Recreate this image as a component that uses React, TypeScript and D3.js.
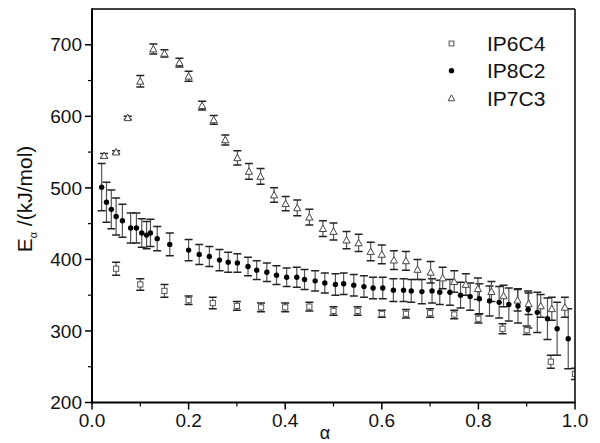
import React from "react";
import * as d3 from "d3";

const alphaIP6C4 = [0.05, 0.1, 0.15, 0.2, 0.25, 0.3, 0.35, 0.4, 0.45, 0.5, 0.55, 0.6, 0.65, 0.7, 0.75, 0.8, 0.85, 0.9, 0.95, 1.0];
const eIP6C4 = [387, 365, 356, 343, 339, 335, 333, 333, 334, 328, 328, 324, 324, 325, 323, 317, 303, 301, 257, 240];
const errIP6C4 = [9, 8, 9, 6, 8, 6, 6, 6, 6, 6, 6, 5, 6, 6, 6, 6, 7, 6, 9, 8];

const alphaIP8C2 = [0.02, 0.03, 0.04, 0.05, 0.063, 0.08, 0.092, 0.103, 0.113, 0.121, 0.135, 0.161, 0.2, 0.222, 0.243, 0.264, 0.282, 0.301, 0.323, 0.341, 0.362, 0.382, 0.403, 0.424, 0.44, 0.462, 0.482, 0.504, 0.521, 0.542, 0.563, 0.582, 0.602, 0.624, 0.645, 0.661, 0.683, 0.704, 0.72, 0.741, 0.763, 0.783, 0.802, 0.823, 0.843, 0.863, 0.882, 0.903, 0.922, 0.943, 0.963, 0.986];
const eIP8C2 = [501, 480, 470, 460, 454, 444, 444, 437, 434, 437, 429, 421, 413, 407, 404, 399, 396, 395, 390, 385, 382, 378, 375, 375, 372, 370, 367, 365, 366, 364, 362, 360, 360, 357, 357, 356, 355, 356, 354, 354, 350, 348, 345, 342, 340, 337, 335, 330, 326, 317, 303, 289];
const errIP8C2 = [33, 28, 27, 26, 23, 21, 21, 20, 19, 19, 17, 16, 15, 14, 14, 15, 14, 13, 13, 13, 13, 13, 13, 14, 14, 14, 14, 15, 15, 15, 15, 15, 15, 16, 16, 16, 17, 17, 17, 18, 18, 19, 21, 21, 22, 23, 24, 26, 28, 29, 37, 42];

const alphaIP7C3 = [0.025, 0.05, 0.074, 0.1, 0.127, 0.15, 0.181, 0.2, 0.228, 0.252, 0.276, 0.301, 0.325, 0.349, 0.377, 0.401, 0.425, 0.45, 0.478, 0.5, 0.527, 0.552, 0.577, 0.6, 0.625, 0.65, 0.674, 0.701, 0.726, 0.75, 0.774, 0.799, 0.827, 0.852, 0.881, 0.904, 0.929, 0.952, 0.979];
const eIP7C3 = [545, 550, 598, 649, 694, 688, 675, 656, 615, 595, 567, 542, 523, 516, 490, 478, 472, 459, 443, 439, 427, 423, 411, 407, 399, 398, 386, 382, 374, 369, 365, 359, 355, 349, 343, 338, 335, 331, 333];
const errIP7C3 = [3, 2, 2, 8, 7, 5, 6, 7, 6, 6, 7, 10, 11, 11, 10, 10, 11, 11, 11, 12, 12, 12, 13, 13, 13, 13, 14, 15, 15, 15, 15, 15, 14, 15, 15, 15, 16, 16, 14];

const xTicks = [0, 0.2, 0.4, 0.6, 0.8, 1.0];
const xMinor = [0.1, 0.3, 0.5, 0.7, 0.9];
const yTicks = [200, 300, 400, 500, 600, 700];
const yMinor = [250, 350, 450, 550, 650];
const legendNames = ["IP6C4", "IP8C2", "IP7C3"];

const W = 600, H = 443;
const L = 92, R = 575, T = 9, B = 402.5;

export default function App() {
  const x = d3.scaleLinear().domain([0, 1]).range([L, R]);
  const y = d3.scaleLinear().domain([200, 750]).range([B, T]);
  const font = "'Liberation Sans', Arial, sans-serif";
  const cap = 4;

  const errBars = (al: number[], e: number[], er: number[], key: string) =>
    al.map((a, i) => {
      const cx = x(a), y1 = y(e[i] + er[i]), y2 = y(e[i] - er[i]);
      return (
        <g key={key + i}>
          <line x1={cx} x2={cx} y1={y1} y2={y2} stroke="#555" strokeWidth={1.2} />
          <line x1={cx - cap} x2={cx + cap} y1={y1} y2={y1} stroke="#222" strokeWidth={1.5} />
          <line x1={cx - cap} x2={cx + cap} y1={y2} y2={y2} stroke="#222" strokeWidth={1.5} />
        </g>
      );
    });

  const tri = (cx: number, cy: number, s = 3.6) =>
    `M${cx},${cy - s} L${cx + s},${cy + s * 0.8} L${cx - s},${cy + s * 0.8} Z`;

  return (
    <svg width={W} height={H} style={{ position: "absolute", left: 0, top: 0, background: "#fff" }}>
      <defs>
        <clipPath id="plotclip">
          <rect x={L} y={T} width={R - L} height={B - T} />
        </clipPath>
      </defs>
      <rect x={0} y={0} width={W} height={H} fill="#fff" />
      <g clipPath="url(#plotclip)">
        {errBars(alphaIP6C4, eIP6C4, errIP6C4, "a")}
        {errBars(alphaIP8C2, eIP8C2, errIP8C2, "b")}
        {errBars(alphaIP7C3, eIP7C3, errIP7C3, "c")}
        {alphaIP6C4.map((a, i) => (
          <rect key={"sq" + i} x={x(a) - 2.6} y={y(eIP6C4[i]) - 2.6} width={5.2} height={5.2} fill="#fff" stroke="#555" strokeWidth={1} />
        ))}
        {alphaIP7C3.map((a, i) => (
          <path key={"tr" + i} d={tri(x(a), y(eIP7C3[i]))} fill="#fff" stroke="#444" strokeWidth={1} />
        ))}
        {alphaIP8C2.map((a, i) => (
          <circle key={"ci" + i} cx={x(a)} cy={y(eIP8C2[i])} r={2.7} fill="#000" />
        ))}
      </g>
      {/* frame */}
      <line x1={L} x2={R} y1={T} y2={T} stroke="#000" strokeWidth={1.5} />
      <line x1={R} x2={R} y1={T} y2={B} stroke="#000" strokeWidth={1.5} />
      <line x1={L} x2={L} y1={T - 0.75} y2={B + 1} stroke="#000" strokeWidth={2} />
      <line x1={L - 1} x2={R + 0.75} y1={B} y2={B} stroke="#000" strokeWidth={2} />
      {/* y ticks */}
      {yTicks.map((t) => (
        <g key={"yt" + t}>
          <line x1={L - 7} x2={L} y1={y(t)} y2={y(t)} stroke="#000" strokeWidth={1.5} />
          <text x={L - 10} y={y(t)} dy="0.35em" textAnchor="end" fontFamily={font} fontSize={19} fill="#111">{t}</text>
        </g>
      ))}
      {yMinor.map((t) => (
        <line key={"ym" + t} x1={L - 4} x2={L} y1={y(t)} y2={y(t)} stroke="#000" strokeWidth={1.2} />
      ))}
      {/* x ticks */}
      {xTicks.map((t) => (
        <g key={"xt" + t}>
          <line x1={x(t)} x2={x(t)} y1={B} y2={B + 7} stroke="#000" strokeWidth={1.5} />
          <text x={x(t)} y={B + 24} textAnchor="middle" fontFamily={font} fontSize={19} fill="#111">{t.toFixed(1)}</text>
        </g>
      ))}
      {xMinor.map((t) => (
        <line key={"xm" + t} x1={x(t)} x2={x(t)} y1={B} y2={B + 4} stroke="#000" strokeWidth={1.2} />
      ))}
      {/* axis labels */}
      <text x={325} y={439} textAnchor="middle" fontFamily={font} fontSize={18} fill="#111">α</text>
      <text transform={`translate(32,199) rotate(-90)`} textAnchor="middle" fontFamily={font} fontSize={21} fill="#111">
        E<tspan fontSize={11} dy={5}>α</tspan><tspan dy={-5}> /(kJ/mol)</tspan>
      </text>
      {/* legend */}
      {legendNames.map((n, i) => {
        const ly = 43.5 + i * 27.3;
        const lx = 451.5;
        return (
          <g key={"lg" + i}>
            {i === 0 && <rect x={lx - 2.4} y={ly - 2.4} width={4.8} height={4.8} fill="#fff" stroke="#555" strokeWidth={1} />}
            {i === 1 && <circle cx={lx} cy={ly} r={2.7} fill="#000" />}
            {i === 2 && <path d={tri(lx, ly, 3.3)} fill="#fff" stroke="#444" strokeWidth={1} />}
            <text x={487} y={ly} dy="0.36em" fontFamily={font} fontSize={21} fill="#111">{n}</text>
          </g>
        );
      })}
    </svg>
  );
}
